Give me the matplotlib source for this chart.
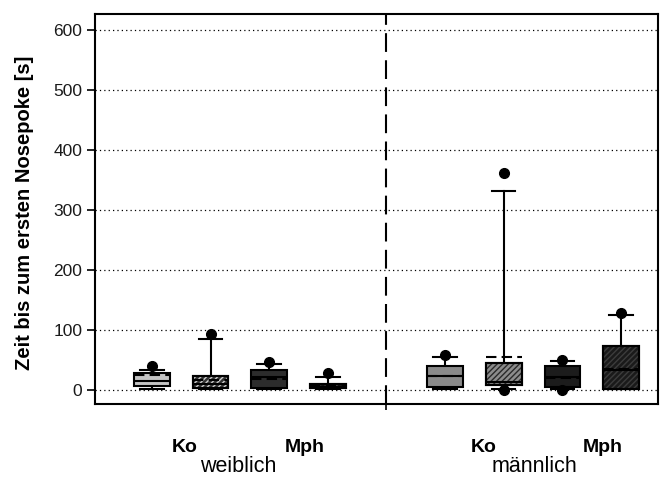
import numpy as np
import matplotlib
matplotlib.use("Agg")
import matplotlib.pyplot as plt
from matplotlib.patches import PathPatch
from matplotlib.transforms import blended_transform_factory

plt.rcParams['font.family'] = ['Liberation Sans', 'DejaVu Sans']

# box positions: weiblich (1-4), männlich (6-9)
positions = [1, 2, 3, 4, 6, 7, 8, 9]
q1 = [6, 3, 2, 2, 4, 7, 4, 1]
medians = [15, 10, 21, 5, 22, 13, 21, 33]
q3 = [27, 23, 32, 10, 39, 45, 39, 72]
means = [24, 16, 18, 6, 22, 55, 20, 35]
whislo = [1, 1, 1, 1, 1, 1, 1, 1]
whishi = [33, 85, 42, 21, 55, 331, 47, 124]
fliers = [[39], [92], [46], [27], [58], [361, 0], [50, 0], [128]]

face_colors = ['#c4c4c4', '#333333', '#2c2c2c', '#141414',
               '#8a8a8a', '#8c8c8c', '#1c1c1c', '#1a1a1a']
hatch_colors = [None, '#d0d0d0', None, '#4a4a4a',
                None, '#2a2a2a', None, '#3c3c3c']

group_labels = ['Ko', 'Mph', 'Ko', 'Mph']
group_label_x = [1.56, 3.6, 6.66, 8.68]
sex_labels = ['weiblich', 'männlich']
sex_label_x = [2.47, 7.52]
yticks = [0, 100, 200, 300, 400, 500, 600]

fig = plt.figure(figsize=(6.67, 4.79), dpi=100)
ax = fig.add_axes([0.1424, 0.1566, 0.8441, 0.8142])

stats = []
for i in range(len(positions)):
    stats.append(dict(med=medians[i], q1=q1[i], q3=q3[i], mean=means[i],
                      whislo=whislo[i], whishi=whishi[i], fliers=fliers[i]))

bp = ax.bxp(stats, positions=positions, widths=0.61, capwidths=0.4,
            patch_artist=True, showmeans=True, meanline=True, showfliers=True,
            boxprops=dict(edgecolor='black', linewidth=1.5),
            medianprops=dict(color='black', linewidth=1.5),
            meanprops=dict(color='black', linewidth=1.5, linestyle=(0, (5, 2.5))),
            whiskerprops=dict(color='black', linewidth=1.5),
            capprops=dict(color='black', linewidth=1.5),
            flierprops=dict(marker='o', markerfacecolor='black', markeredgecolor='black',
                            markersize=7, linestyle='none'),
            zorder=3)

for i, box in enumerate(bp['boxes']):
    box.set_facecolor(face_colors[i])
    box.set_zorder(3)
    if hatch_colors[i]:
        ax.add_patch(PathPatch(box.get_path(), facecolor='none', edgecolor=hatch_colors[i],
                               hatch='//////', linewidth=0, zorder=3.05))
        ax.add_patch(PathPatch(box.get_path(), facecolor='none', edgecolor='black',
                               linewidth=1.5, zorder=3.06))
for key in ['medians', 'means']:
    for ln in bp[key]:
        ln.set_zorder(3.2)
for key in ['whiskers', 'caps']:
    for ln in bp[key]:
        ln.set_zorder(2.9)
for ln in bp['fliers']:
    ln.set_zorder(3.3)
    ln.set_clip_on(False)

# divider between sexes
ax.axvline(5, color='black', linewidth=1.5, linestyle=(0, (9, 4)), zorder=2.5)

ax.set_xlim(0.03, 9.63)
ax.set_ylim(-24, 626)
ax.set_yticks(yticks)
ax.set_xticks([5])
ax.set_xticklabels([''])
ax.tick_params(axis='y', direction='out', length=6, width=1.2, labelsize=12.5,
               labelcolor='#1a1a1a', pad=3)
ax.tick_params(axis='x', direction='out', length=4, width=1.2)
ax.yaxis.grid(True, color='black', linestyle=(0, (1, 2.5)), linewidth=0.9)
ax.set_axisbelow(True)
for sp in ax.spines.values():
    sp.set_linewidth(1.5)

ax.set_ylabel('Zeit bis zum ersten Nosepoke [s]', fontsize=14.5, fontweight='bold')
ax.yaxis.set_label_coords(-0.108, 0.49)

trans = blended_transform_factory(ax.transData, fig.transFigure)
for lbl, x in zip(group_labels, group_label_x):
    ax.text(x, 1 - 452 / 479, lbl, transform=trans, ha='center', va='baseline',
            fontsize=14, fontweight='bold')
for lbl, x in zip(sex_labels, sex_label_x):
    ax.text(x, 1 - 472 / 479, lbl, transform=trans, ha='center', va='baseline',
            fontsize=15.5)

fig.savefig('out.png', dpi=100)
